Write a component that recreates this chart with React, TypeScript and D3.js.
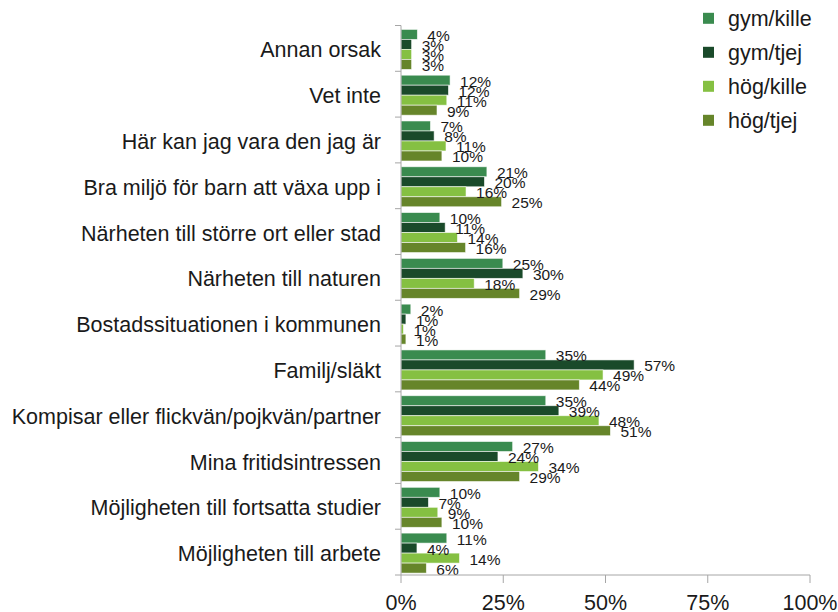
import React from "react";
import * as d3 from "d3";

const categories = [
  "Annan orsak",
  "Vet inte",
  "Här kan jag vara den jag är",
  "Bra miljö för barn att växa upp i",
  "Närheten till större ort eller stad",
  "Närheten till naturen",
  "Bostadssituationen i kommunen",
  "Familj/släkt",
  "Kompisar eller flickvän/pojkvän/partner",
  "Mina fritidsintressen",
  "Möjligheten till fortsatta studier",
  "Möjligheten till arbete",
];

const seriesNames = ["gym/kille", "gym/tjej", "hög/kille", "hög/tjej"];
const seriesColors = ["#3a8b4f", "#1a4a2a", "#85c042", "#66852a"];

const gymKille = [4.0, 12.0, 7.2, 21.0, 9.5, 24.9, 2.4, 35.4, 35.4, 27.3, 9.5, 11.2];
const gymTjej = [2.6, 11.6, 8.1, 20.4, 10.8, 29.8, 1.2, 57.0, 38.6, 23.7, 6.7, 3.9];
const hogKille = [2.6, 11.2, 11.0, 15.9, 13.8, 17.9, 0.6, 49.4, 48.4, 33.6, 9.0, 14.3];
const hogTjej = [2.6, 8.8, 10.0, 24.6, 15.8, 29.0, 1.2, 43.6, 51.2, 29.0, 10.0, 6.2];

const xTicks = [0, 25, 50, 75, 100];

const W = 838;
const H = 612;
const left = 401;
const right = 810;
const top = 25.5;
const bottom = 575;

export default function App() {
  const series = [gymKille, gymTjej, hogKille, hogTjej];
  const x = d3.scaleLinear().domain([0, 100]).range([left, right]);
  const y = d3.scaleBand<string>().domain(categories).range([top, bottom]).paddingInner(0).paddingOuter(0);
  const inner = d3
    .scaleBand<string>()
    .domain(seriesNames)
    .range([0, y.bandwidth()])
    .paddingInner(0)
    .paddingOuter(0.29);
  const axisColor = "#a6a6a6";
  const font = "Liberation Sans, Arial, sans-serif";

  return (
    <svg
      width={W}
      height={H}
      style={{ position: "absolute", left: 0, top: 0, background: "#fff" }}
      fontFamily={font}
    >
      {/* category labels */}
      {categories.map((c) => (
        <text
          key={c}
          x={381}
          y={(y(c) as number) + y.bandwidth() / 2 + 2}
          textAnchor="end"
          dominantBaseline="central"
          fontSize={21.5}
          fill="#1a1a1a"
        >
          {c}
        </text>
      ))}
      {/* bars */}
      {categories.map((c, i) =>
        seriesNames.map((s, j) => {
          const v = series[j][i];
          const by = (y(c) as number) + (inner(s) as number) + 1;
          return (
            <rect
              key={c + s}
              x={x(0)}
              y={by}
              width={x(v) - x(0)}
              height={inner.bandwidth()}
              fill={seriesColors[j]}
              stroke="#ffffff"
              strokeOpacity={0.7}
              strokeWidth={0.8}
            />
          );
        })
      )}
      {/* value labels */}
      {categories.map((c, i) =>
        seriesNames.map((s, j) => {
          const v = series[j][i];
          const by = (y(c) as number) + (inner(s) as number) + 1;
          return (
            <text
              key={"l" + c + s}
              x={x(v) + 10}
              y={by + inner.bandwidth() / 2 + 1}
              dominantBaseline="central"
              fontSize={15.5}
              fill="#1a1a1a"
            >
              {Math.round(v) + "%"}
            </text>
          );
        })
      )}
      {/* y axis */}
      <line x1={left} x2={left} y1={top} y2={bottom} stroke={axisColor} strokeWidth={1} />
      {d3.range(categories.length + 1).map((k) => {
        const yy = top + k * y.step();
        return <line key={"yt" + k} x1={left - 6} x2={left} y1={yy} y2={yy} stroke={axisColor} strokeWidth={1} />;
      })}
      {/* x axis */}
      <line x1={left} x2={right} y1={bottom} y2={bottom} stroke={axisColor} strokeWidth={1} />
      {xTicks.map((t) => (
        <g key={"xt" + t}>
          <line x1={x(t)} x2={x(t)} y1={bottom} y2={bottom + 8} stroke={axisColor} strokeWidth={1} />
          <text x={x(t)} y={610} textAnchor="middle" fontSize={21.5} fill="#1a1a1a">
            {t + "%"}
          </text>
        </g>
      ))}
      {/* legend */}
      {seriesNames.map((s, j) => {
        const cy = 18.3 + j * 34;
        return (
          <g key={"lg" + s}>
            <rect x={703} y={cy - 5.5} width={11} height={11} fill={seriesColors[j]} />
            <text x={728} y={cy + 1} dominantBaseline="central" fontSize={21.5} fill="#1a1a1a">
              {s}
            </text>
          </g>
        );
      })}
    </svg>
  );
}
